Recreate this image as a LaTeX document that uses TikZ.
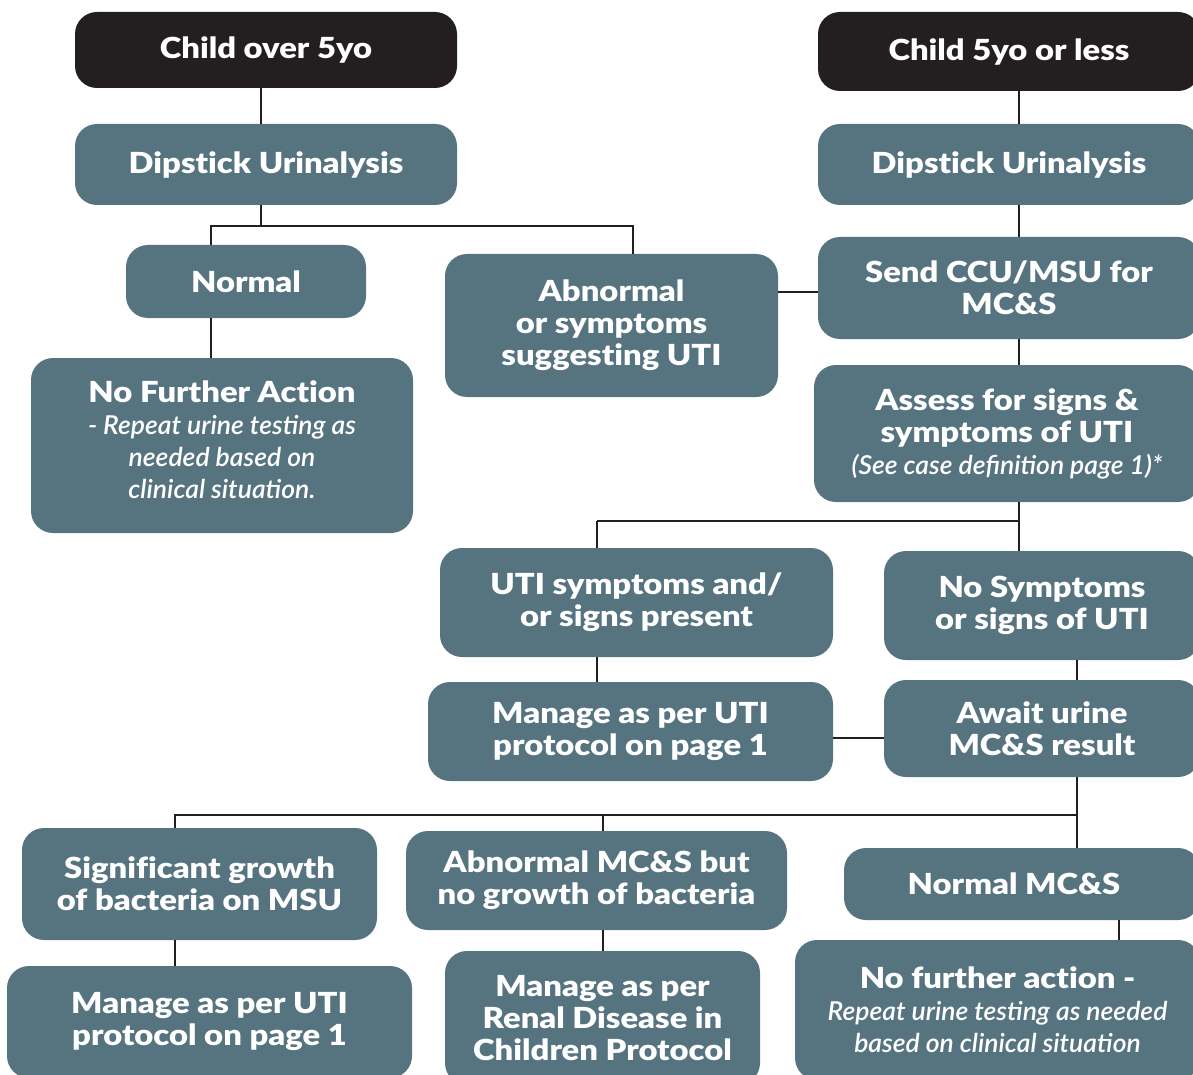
\documentclass[tikz,border=0pt]{standalone}
\usepackage{fontspec}
\setmainfont{Lato}[BoldFont={Lato Black}, BoldFeatures={FakeStretch=1.13}, Ligatures=NoCommon]
\newfontfamily\itf{Lato Light}[ItalicFont={Lato Light Italic}, FakeStretch=1.02]
\definecolor{teal0}{HTML}{557480}
\definecolor{blk}{HTML}{231F20}
\begin{document}
\begin{tikzpicture}[x=1pt,y=-1pt,
  box/.style={fill=teal0, rounded corners=22pt, text=white, align=center, inner sep=0pt,
    font=\bfseries\fontsize{29}{32}\selectfont},
  topbox/.style={box, fill=blk},
  conn/.style={draw=blk, line width=2.4pt}]
\useasboundingbox (0,0) rectangle (1193,1075);
\newcommand{\itl}[1]{{\itf\itshape\fontsize{26}{31}\selectfont #1}}
% boxes
\node[topbox, minimum width=382, minimum height=76] (c5L) at (266,50) {Child over 5yo};
\node[topbox, minimum width=382, minimum height=79] (c5R) at (1009,51.5) {Child 5yo or less};
\node[box, minimum width=382, minimum height=81] (dipL) at (266,164.5) {Dipstick Urinalysis};
\node[box, minimum width=382, minimum height=81] (dipR) at (1009,164.5) {Dipstick Urinalysis};
\node[box, minimum width=240, minimum height=73] (normal) at (246,281.5) {Normal};
\node[box, minimum width=333, minimum height=143] (abn) at (611.5,325.5) {Abnormal\\or symptoms\\suggesting UTI};
\node[box, minimum width=382, minimum height=102] (send) at (1009,288) {Send CCU/MSU for\\MC\&S};
\node[box, minimum width=382, minimum height=175] (nfaL) at (222,445.5) {No Further Action\\\itl{- Repeat urine testing as}\\\itl{needed based on}\\\itl{clinical situation.}\\[-20pt]};
\node[box, minimum width=386, minimum height=137] (assess) at (1007,433.5) {Assess for signs \&\\symptoms of UTI\\\itl{(See case definition page 1)*}};
\node[box, minimum width=393, minimum height=109] (utis) at (636.5,602.5) {UTI symptoms and/\\or signs present};
\node[box, minimum width=316, minimum height=109] (nosym) at (1042,605.5) {No Symptoms\\or signs of UTI};
\node[box, minimum width=405, minimum height=99] (manM) at (630.5,731.5) {Manage as per UTI\\protocol on page 1};
\node[box, minimum width=316, minimum height=97] (await) at (1042,728.5) {Await urine\\MC\&S result};
\node[box, minimum width=355, minimum height=112] (sig) at (199.5,884) {Significant growth\\of bacteria on MSU};
\node[box, minimum width=381, minimum height=99] (abmcs) at (596.5,880.5) {Abnormal MC\&S but\\no growth of bacteria};
\node[box, minimum width=356, minimum height=72] (normcs) at (1022,884) {Normal MC\&S\hspace*{16pt}};
\node[box, minimum width=405, minimum height=112] (manB) at (209.5,1022) {Manage as per UTI\\protocol on page 1};
\node[box, minimum width=315, minimum height=134] (renal) at (602.5,1018) {Manage as per\\Renal Disease in\\Children Protocol};
\node[box, minimum width=405, minimum height=140] (nfaR) at (997.5,1010) {No further action -\\\itl{Repeat urine testing as needed}\\\itl{based on clinical situation}};
% junction coordinates
\coordinate (j1) at (261,226);
\coordinate (jNorm) at (211,226);
\coordinate (jAbn) at (633,226);
\coordinate (jH) at (800,292);
\coordinate (jR) at (1019,521);
\coordinate (jU) at (597,521);
\coordinate (jH2) at (860,738);
\coordinate (jA) at (1077,815);
\coordinate (jS) at (175,815);
\coordinate (jM) at (603,815);
\coordinate (jN) at (1119,930);
% connectors
\draw[conn] (c5L.south -| j1) -- (dipL.north -| j1);
\draw[conn] (dipL.south -| j1) -- (j1);
\draw[conn] (normal.north -| jNorm) -- (jNorm) -- (jAbn) -- (abn.north -| jAbn);
\draw[conn] (normal.south -| jNorm) -- (nfaL.north -| jNorm);
\draw[conn] (abn.east |- jH) -- (send.west |- jH);
\draw[conn] (c5R.south -| jR) -- (dipR.north -| jR);
\draw[conn] (dipR.south -| jR) -- (send.north -| jR);
\draw[conn] (send.south -| jR) -- (assess.north -| jR);
\draw[conn] (assess.south -| jR) -- (jR) -- (nosym.north -| jR);
\draw[conn] (jU) -- (jR);
\draw[conn] (jU) -- (utis.north -| jU);
\draw[conn] (utis.south -| jU) -- (manM.north -| jU);
\draw[conn] (nosym.south -| jA) -- (await.north -| jA);
\draw[conn] (manM.east |- jH2) -- (await.west |- jH2);
\draw[conn] (await.south -| jA) -- (jA) -- (jS) -- (sig.north -| jS);
\draw[conn] (jM) -- (abmcs.north -| jM);
\draw[conn] (jA) -- (normcs.north -| jA);
\draw[conn] (sig.south -| jS) -- (manB.north -| jS);
\draw[conn] (abmcs.south -| jM) -- (renal.north -| jM);
\draw[conn] (normcs.south -| jN) -- (nfaR.north -| jN);
\end{tikzpicture}
\end{document}
